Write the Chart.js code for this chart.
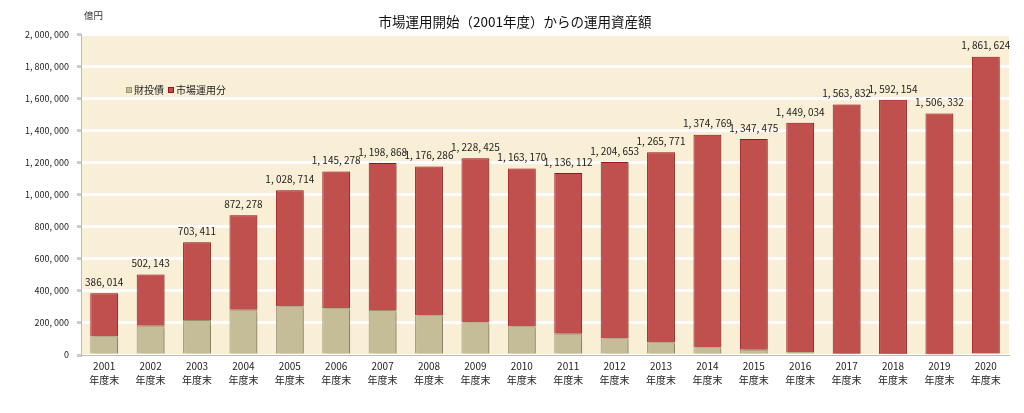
<!DOCTYPE html>
<html>
<head>
<meta charset="utf-8">
<script src="https://cdn.jsdelivr.net/npm/chart.js@4"></script>
<style>
  html, body { margin: 0; padding: 0; background: #fff; }
  #wrap { width: 1024px; height: 413px; position: relative; }
</style>
</head>
<body>
<div id="wrap"><canvas id="chart" width="1024" height="413"></canvas></div>
<script>
/* data (億円) */
const years = ["2001", "2002", "2003", "2004", "2005", "2006", "2007", "2008", "2009", "2010",
    "2011", "2012", "2013", "2014", "2015", "2016", "2017", "2018", "2019", "2020"];
const totals = [386014, 502143, 703411, 872278, 1028714, 1145278, 1198868, 1176286, 1228425, 1163170,
    1136112, 1204653, 1265771, 1374769, 1347475, 1449034, 1563832, 1592154, 1506332, 1861624];
const zaitousai = [117000, 183000, 219000, 283000, 304000, 292000, 281000, 248000, 204000, 179000,
    133000, 104000, 79000, 48000, 33000, 17000, 8000, 6000, 5000, 0];
const shijou = totals.map((t, i) => t - zaitousai[i]);

const fontJP = '"Noto Sans CJK JP", "Noto Sans", sans-serif';
const fmt = (v) => v.toLocaleString("en-US").replace(/,/g, ", ");

/* beige plot background, title, unit, legend, total labels, two-line x labels */
const decor = {
    id: "decor",
    beforeDraw(chart) {
        const { ctx, chartArea: a } = chart;
        ctx.save();
        ctx.fillStyle = "#f9eed6";
        ctx.fillRect(a.left, a.top, a.right - a.left, a.bottom - a.top);
        ctx.restore();
    },
    beforeDatasetsDraw(chart) {
        const ctx = chart.ctx;
        ctx.save();
        ctx.shadowColor = "rgba(90,70,40,0.4)";
        ctx.shadowBlur = 3;
        ctx.shadowOffsetX = 3;
        ctx.shadowOffsetY = 1;
    },
    afterDatasetsDraw(chart) {
        const ctx = chart.ctx;
        ctx.restore();
        const meta = chart.getDatasetMeta(1);
        const y = chart.scales.y;
        ctx.save();
        ctx.fillStyle = "#222";
        ctx.font = "10px " + fontJP;
        ctx.textAlign = "center";
        ctx.textBaseline = "bottom";
        meta.data.forEach((bar, i) => {
            ctx.fillText(fmt(totals[i]), bar.x, y.getPixelForValue(totals[i]) - 6);
        });

        // x labels, two lines
        const xs = chart.scales.x;
        ctx.textBaseline = "middle";
        years.forEach((yr, i) => {
            const px = xs.getPixelForValue(i);
            ctx.fillText(yr, px, 366);
            ctx.fillText("年度末", px, 380);
        });

        // legend inside the plot
        const items = chart.data.datasets;
        let lx = 126;
        const ly = 90;
        ctx.textAlign = "left";
        items.forEach((ds) => {
            ctx.fillStyle = ds.backgroundColor;
            ctx.strokeStyle = ds.borderColor;
            ctx.lineWidth = 1;
            ctx.fillRect(lx, ly - 3, 6, 6);
            ctx.strokeRect(lx + 0.5, ly - 2.5, 5, 5);
            ctx.fillStyle = "#222";
            ctx.fillText(ds.label, lx + 8, ly);
            lx += 8 + ctx.measureText(ds.label).width + 4;
        });
        ctx.restore();
    },
    afterDraw(chart) {
        const ctx = chart.ctx;
        ctx.save();
        ctx.fillStyle = "#111";
        ctx.font = "13.5px " + fontJP;
        ctx.textAlign = "center";
        ctx.textBaseline = "middle";
        ctx.fillText("市場運用開始（2001年度）からの運用資産額", 515, 22);
        ctx.font = "9.5px " + fontJP;
        ctx.textAlign = "left";
        ctx.fillStyle = "#333";
        ctx.fillText("億円", 84, 15);
        ctx.restore();
    }
};

new Chart(document.getElementById("chart"), {
    type: "bar",
    data: {
        labels: years,
        datasets: [
            {
                label: "財投債",
                data: zaitousai,
                backgroundColor: "#c4bd97",
                borderColor: "#9c9670",
                borderWidth: 1,
                barPercentage: 0.6,
                categoryPercentage: 1,
            },
            {
                label: "市場運用分",
                data: shijou,
                backgroundColor: "#c0504d",
                borderColor: "#a3141a",
                borderWidth: 1,
                barPercentage: 0.6,
                categoryPercentage: 1,
            },
        ],
    },
    options: {
        responsive: false,
        animation: false,
        layout: { padding: { top: 34.5, right: 15, left: 0, bottom: 50 } },
        scales: {
            x: {
                stacked: true,
                grid: { display: false },
                border: { color: "#bbb" },
                ticks: { display: false },
            },
            y: {
                stacked: true,
                min: 0,
                max: 2000000,
                afterFit(s) { s.width = 81; },
                grid: { color: "#ffffff", lineWidth: 3, drawTicks: true, tickLength: 4, tickColor: "#ccc" },
                border: { color: "#bbb" },
                ticks: {
                    stepSize: 200000,
                    color: "#222",
                    padding: 8,
                    font: { size: 9, family: fontJP },
                    callback: (v) => fmt(v),
                },
            },
        },
        plugins: {
            title: { display: false },
            tooltip: { enabled: false },
            legend: { display: false },
        },
    },
    plugins: [decor],
});
</script>
</body>
</html>
